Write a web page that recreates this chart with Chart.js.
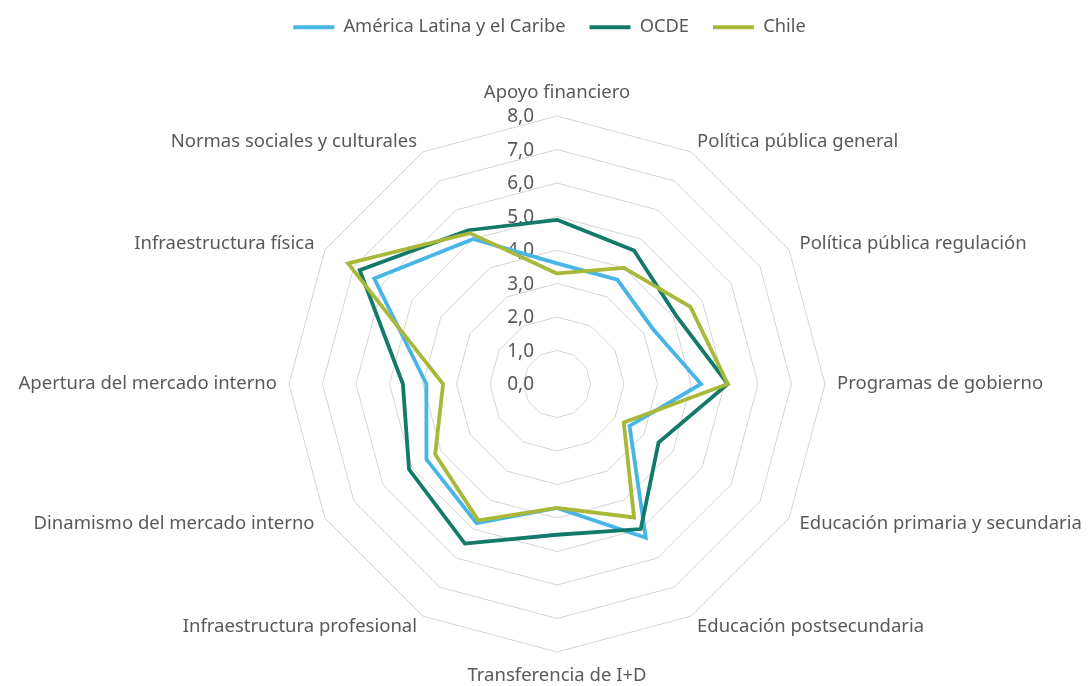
<!DOCTYPE html>
<html><head><meta charset="utf-8">
<script src="https://cdn.jsdelivr.net/npm/chart.js@4.4.1/dist/chart.umd.min.js"></script>
<style>html,body{margin:0;padding:0;background:#fff;}</style>
</head><body>
<canvas id="c" width="1089" height="686"></canvas>
<script>
const categories = [
  'Apoyo financiero',
  'Política pública general',
  'Política pública regulación',
  'Programas de gobierno',
  'Educación primaria y secundaria',
  'Educación postsecundaria',
  'Transferencia de I+D',
  'Infraestructura profesional',
  'Dinamismo del mercado interno',
  'Apertura del mercado interno',
  'Infraestructura física',
  'Normas sociales y culturales'
];
const seriesNames = ['América Latina y el Caribe', 'OCDE', 'Chile'];
const alcValues   = [3.6, 3.6, 3.3, 4.3, 2.5, 5.3, 3.7, 4.8, 4.5, 3.9, 6.3, 5.0];
const ocdeValues  = [4.9, 4.6, 4.1, 5.1, 3.5, 5.0, 4.5, 5.5, 5.1, 4.6, 6.8, 5.3];
const chileValues = [3.3, 4.0, 4.6, 5.1, 2.3, 4.6, 3.7, 4.7, 4.2, 3.4, 7.2, 5.2];
const tickValues = [0, 1, 2, 3, 4, 5, 6, 7, 8];
const tickLabels = ['0,0', '1,0', '2,0', '3,0', '4,0', '5,0', '6,0', '7,0', '8,0'];

const FONT = '"Noto Sans", "Open Sans", sans-serif';
const TEXT = '#595959';
const COLORS = ['#47B5E6', '#137A69', '#A9B83A'];

const customLabels = {
  id: 'customLabels',
  beforeDatasetsDraw(chart) {
    const s = chart.scales.r, ctx = chart.ctx;
    ctx.save();
    ctx.fillStyle = TEXT;
    ctx.font = '19px ' + FONT;
    ctx.textAlign = 'right';
    ctx.textBaseline = 'middle';
    tickValues.forEach((v, i) => {
      const p = s.getPointPositionForValue(0, v);
      ctx.fillText(tickLabels[i], p.x - 23, p.y + 1);
    });
    ctx.restore();
  },
  afterDraw(chart) {
    const s = chart.scales.r, ctx = chart.ctx;
    ctx.save();
    ctx.fillStyle = TEXT;
    ctx.font = '18.5px ' + FONT;
    categories.forEach((lab, i) => {
      const p = s.getPointPosition(i, s.drawingArea + 12);
      const dx = Math.cos(p.angle), dy = Math.sin(p.angle);
      if (Math.abs(dx) < 0.01) {
        ctx.textAlign = 'center';
        if (dy < 0) { ctx.textBaseline = 'bottom'; ctx.fillText(lab, p.x, p.y - 2); }
        else { ctx.textBaseline = 'top'; ctx.fillText(lab, p.x, p.y + 2); }
      } else {
        ctx.textAlign = dx > 0 ? 'left' : 'right';
        ctx.textBaseline = 'middle';
        ctx.fillText(lab, p.x, p.y);
      }
    });
    ctx.restore();
  }
};

const mk = (label, data, color, order) => ({
  label, data, borderColor: color, backgroundColor: color,
  borderWidth: 3.8, pointRadius: 0, pointHoverRadius: 0, fill: false,
  borderJoinStyle: 'miter', order, clip: false
});

new Chart(document.getElementById('c'), {
  type: 'radar',
  data: {
    labels: categories,
    datasets: [
      mk(seriesNames[0], alcValues, COLORS[0], 3),
      mk(seriesNames[1], ocdeValues, COLORS[1], 2),
      mk(seriesNames[2], chileValues, COLORS[2], 1)
    ]
  },
  options: {
    responsive: false,
    animation: false,
    layout: { padding: { top: -6, left: 30, right: 20, bottom: 4 } },
    plugins: {
      tooltip: { enabled: false },
      legend: {
        position: 'top',
        labels: {
          boxWidth: 41, boxHeight: 4, padding: 24, color: TEXT,
          font: { family: FONT, size: 18.3 },
          sort: (a, b) => a.datasetIndex - b.datasetIndex,
          generateLabels: (chart) => Chart.defaults.plugins.legend.labels.generateLabels(chart)
            .map(l => Object.assign(l, { lineWidth: 0 }))
        }
      }
    },
    scales: {
      r: {
        min: 0, max: 8,
        ticks: { stepSize: 1, display: false },
        grid: { color: '#D4D4D4', lineWidth: 1 },
        angleLines: { display: false },
        pointLabels: { display: false },
        afterFit(s) { s.xCenter = 557; s.yCenter = 384; s.drawingArea = 268; }
      }
    }
  },
  plugins: [customLabels]
});
</script>
</body></html>
